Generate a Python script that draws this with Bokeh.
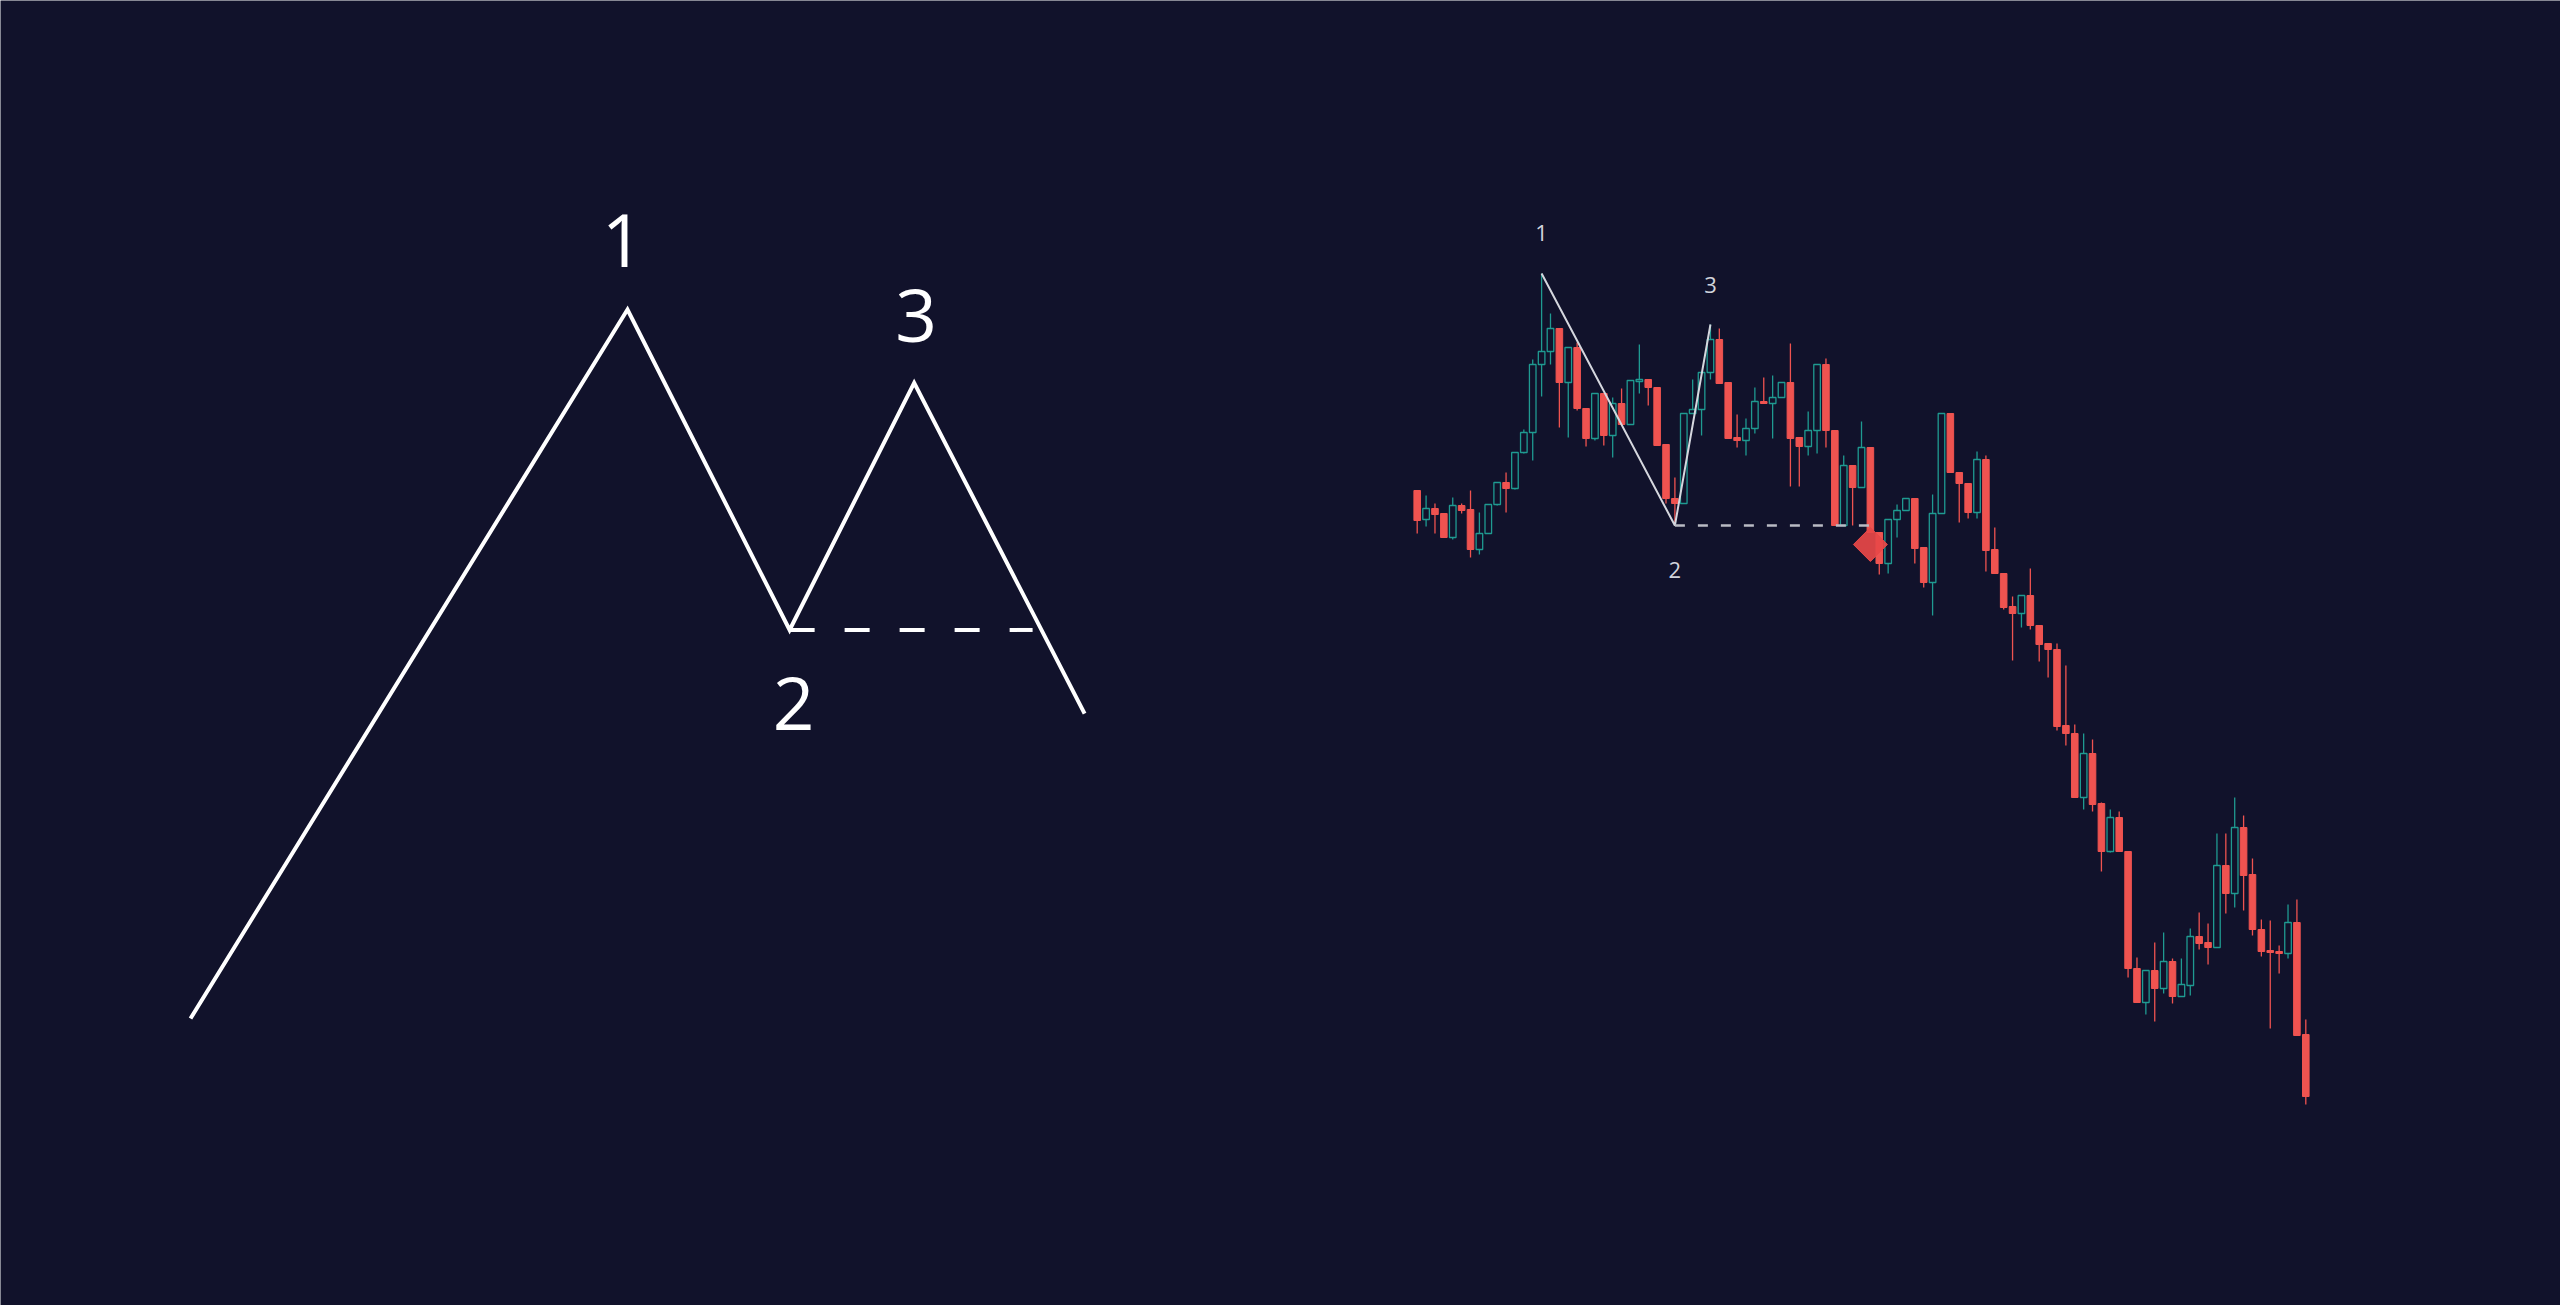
from bokeh.plotting import figure
from bokeh.models import Range1d, ColumnDataSource
from bokeh.core.properties import value
from bokeh.embed import file_html
from bokeh.resources import INLINE
import math

# ---------------- data ----------------
# schematic (left): wave points in abstract units
sch_x = [0.0, 10.0, 13.71, 16.56, 20.46]
sch_y = [0.0, 20.0, 10.96, 17.93, 8.60]
sch_neck_end = 19.27
sch_labels = ["1", "2", "3"]
sch_label_pt = [1, 2, 3]          # index of wave point for each label

# candlestick chart (right)
opens = [71.0, 68.1, 69.2, 68.7, 66.3, 69.5, 69.1, 65.1, 66.7, 69.6,
         71.8, 71.2, 74.8, 76.8, 83.6, 84.9, 87.2, 81.8, 85.3, 79.2,
         76.2, 80.7, 76.5, 79.7, 77.6, 81.9, 82.1, 81.3, 75.6, 70.2,
         69.7, 78.7, 79.1, 82.8, 86.1, 81.8, 76.3, 76.0, 77.2, 79.9,
         79.7, 80.3, 81.8, 76.3, 75.4, 77.0, 83.6, 77.0, 67.5, 73.5,
         71.3, 75.3, 66.8, 63.7, 68.1, 69.0, 70.2, 65.3, 61.8, 68.7,
         78.7, 72.8, 71.7, 68.8, 74.1, 65.1, 62.7, 59.4, 58.7, 60.5,
         57.5, 55.7, 55.1, 47.5, 46.7, 40.3, 44.7, 39.7, 34.9, 38.3,
         34.9, 23.2, 19.8, 23.0, 21.2, 23.9, 20.4, 21.5, 26.4, 25.8,
         25.3, 33.5, 30.7, 37.3, 32.6, 27.1, 25.0, 24.9, 24.7, 27.8,
         16.6]
highs = [71.0, 70.5, 69.7, 68.7, 70.3, 69.7, 71.0, 68.8, 69.6, 71.8,
         72.8, 74.8, 77.1, 84.1, 92.7, 88.7, 87.2, 85.3, 85.8, 79.2,
         80.7, 80.7, 80.3, 81.2, 82.0, 85.6, 82.1, 81.3, 75.6, 72.3,
         78.7, 82.1, 82.8, 87.6, 87.2, 81.8, 78.6, 78.2, 81.3, 82.3,
         82.5, 81.8, 85.7, 76.3, 78.9, 83.6, 84.2, 77.0, 74.5, 73.5,
         77.9, 75.3, 66.8, 68.1, 69.6, 70.2, 70.2, 65.3, 70.6, 78.7,
         78.7, 72.8, 71.7, 74.9, 74.5, 67.3, 62.7, 60.4, 60.5, 63.2,
         57.5, 55.7, 55.7, 53.5, 47.6, 46.7, 46.1, 39.8, 39.1, 38.9,
         34.9, 24.3, 23.0, 25.8, 26.8, 24.2, 24.2, 27.2, 28.8, 27.7,
         36.7, 36.7, 40.3, 38.5, 34.2, 28.1, 28.0, 25.5, 29.6, 30.1,
         18.1]
lows = [66.7, 67.4, 66.7, 66.3, 66.1, 68.7, 64.3, 64.6, 66.7, 69.5,
        68.8, 71.1, 74.7, 74.0, 80.4, 83.6, 77.3, 76.3, 79.0, 75.4,
        76.0, 75.5, 74.3, 77.6, 77.6, 80.7, 79.5, 75.5, 69.7, 67.5,
        69.7, 78.7, 76.5, 82.1, 81.7, 76.2, 75.3, 74.5, 76.7, 79.7,
        76.2, 80.3, 71.4, 71.4, 74.5, 74.7, 75.3, 67.5, 67.5, 67.5,
        71.3, 66.8, 62.6, 62.7, 66.3, 69.0, 63.7, 61.3, 58.5, 68.7,
        72.8, 67.8, 68.2, 68.2, 62.9, 62.7, 59.1, 54.0, 57.3, 57.1,
        53.9, 52.3, 47.0, 45.5, 40.3, 39.1, 38.9, 32.9, 34.8, 34.9,
        22.3, 19.8, 18.6, 17.9, 20.7, 19.7, 20.4, 20.5, 25.1, 23.6,
        25.3, 28.7, 29.3, 29.0, 26.5, 24.4, 17.2, 22.7, 24.2, 16.5,
        9.6]
closes = [68.0, 69.2, 68.6, 66.3, 69.5, 69.0, 65.1, 66.7, 69.6, 71.8,
          71.2, 74.8, 76.8, 83.6, 84.9, 87.2, 81.8, 85.3, 79.2, 76.2,
          80.7, 76.5, 79.7, 77.6, 82.0, 82.1, 81.3, 75.5, 70.2, 69.7,
          78.7, 79.1, 82.8, 86.1, 81.7, 76.2, 76.0, 77.2, 79.9, 79.7,
          80.3, 81.8, 76.2, 75.4, 77.0, 83.6, 77.0, 67.5, 73.5, 71.3,
          75.3, 66.8, 63.7, 68.1, 69.0, 70.2, 65.2, 61.8, 68.7, 78.7,
          72.8, 71.7, 68.8, 74.1, 65.0, 62.7, 59.3, 58.7, 60.5, 57.5,
          55.6, 55.1, 47.4, 46.7, 40.3, 44.7, 39.6, 34.9, 38.3, 34.9,
          23.2, 19.8, 23.0, 21.2, 23.9, 20.4, 21.6, 26.4, 25.7, 25.3,
          33.5, 30.7, 37.3, 32.5, 27.1, 24.9, 24.8, 24.7, 27.8, 16.5,
          10.4]
pivot_bars = [15, 30, 34]          # bars of pivots 1, 2, 3
pivot_labels = ["1", "2", "3"]
neck_end_bar = 52
signal_bar = 52
signal_price = 65.6

# ---------------- layout / style ----------------
BG = "#11122b"
RED = "#ef5350"
TEAL = "#1f9a91"
W, H = 2560, 1305
M = 0
# schematic mapping (page px)
SX0, SXU, SY0, SYU = 190.0, 43.7, 1018.0, 35.45
# candle mapping (page px)
CX0, CXU, CY0, CYU = 1416.7, 8.886, 1200.0, 10.0

x_rng = Range1d((M - SX0) / SXU, (M + W - SX0) / SXU)
y_rng = Range1d((SY0 - (M + H)) / SYU, (SY0 - M) / SYU)

p = figure(width=W, height=H, output_backend="svg", toolbar_location=None,
           x_range=x_rng, y_range=y_rng, x_axis_type=None, y_axis_type=None,
           min_border=0)
p.outline_line_color = None
p.background_fill_color = BG
p.border_fill_color = BG
p.grid.visible = False

p.extra_x_ranges = {"c": Range1d(1 + (M - CX0) / CXU, 1 + (M + W - CX0) / CXU)}
p.extra_y_ranges = {"c": Range1d((CY0 - (M + H)) / CYU, (CY0 - M) / CYU)}

# ---------- schematic ----------
p.line(sch_x, sch_y, line_color="white", line_width=4, line_join="miter")
p.line([sch_x[2], sch_neck_end], [sch_y[2], sch_y[2]], line_color="white",
       line_width=4, line_dash="25 30")
offs = {"1": (-5, -69), "2": (4, 74), "3": (2, -67)}
for lab, k in zip(sch_labels, sch_label_pt):
    p.text([sch_x[k]], [sch_y[k]], text=[lab], text_color="white",
           text_font=value("Open Sans"), text_font_size="73px",
           text_align="center", text_baseline="alphabetic",
           x_offset=offs[lab][0], y_offset=offs[lab][1])

# ---------- candlesticks ----------
idx = list(range(1, len(opens) + 1))
up = [c >= o for o, c in zip(opens, closes)]
src_up = ColumnDataSource(dict(
    x=[i for i, u in zip(idx, up) if u],
    o=[o for o, u in zip(opens, up) if u],
    c=[c for c, u in zip(closes, up) if u],
    h=[h for h, u in zip(highs, up) if u],
    l=[l for l, u in zip(lows, up) if u]))
src_dn = ColumnDataSource(dict(
    x=[i for i, u in zip(idx, up) if not u],
    o=[o for o, u in zip(opens, up) if not u],
    c=[c for c, u in zip(closes, up) if not u],
    h=[h for h, u in zip(highs, up) if not u],
    l=[l for l, u in zip(lows, up) if not u]))

kw = dict(x_range_name="c", y_range_name="c")
p.segment("x", "h", "x", "l", source=src_up, line_color=TEAL, line_width=1.3, **kw)
p.segment("x", "h", "x", "l", source=src_dn, line_color=RED, line_width=1.3, **kw)
p.vbar(x="x", top="c", bottom="o", width=0.74, source=src_up,
       fill_color=BG, line_color=TEAL, line_width=1.3, **kw)
p.vbar(x="x", top="o", bottom="c", width=0.74, source=src_dn,
       fill_color=RED, line_color=RED, line_width=1.0, **kw)

# pattern lines
piv_y = [highs[pivot_bars[0] - 1], lows[pivot_bars[1] - 1], highs[pivot_bars[2] - 1]]
p.line(pivot_bars, piv_y, line_color="#d5d7de", line_width=2, **kw)
p.line([pivot_bars[1], neck_end_bar], [piv_y[1], piv_y[1]], line_color="#b9bbc4",
       line_width=2.5, line_dash="10 13", **kw)

# signal marker
p.scatter([signal_bar], [signal_price], marker="square", size=24, angle=math.pi / 4,
          fill_color="#e84848", line_color="#e84848", fill_alpha=0.92, **kw)

coffs = {"1": -41, "2": 44, "3": -40}
for lab, b, yv in zip(pivot_labels, pivot_bars, piv_y):
    p.text([b], [yv], text=[lab], text_color="#d1d4dc",
           text_font=value("Open Sans"), text_font_size="22px",
           text_align="center", text_baseline="alphabetic",
           y_offset=coffs[lab], **kw)

html = file_html(p, INLINE, title="Pattern")
html = html.replace("<body>", "<body style=\"background:%s;\">" % BG, 1)
open("out.html", "w").write(html)
